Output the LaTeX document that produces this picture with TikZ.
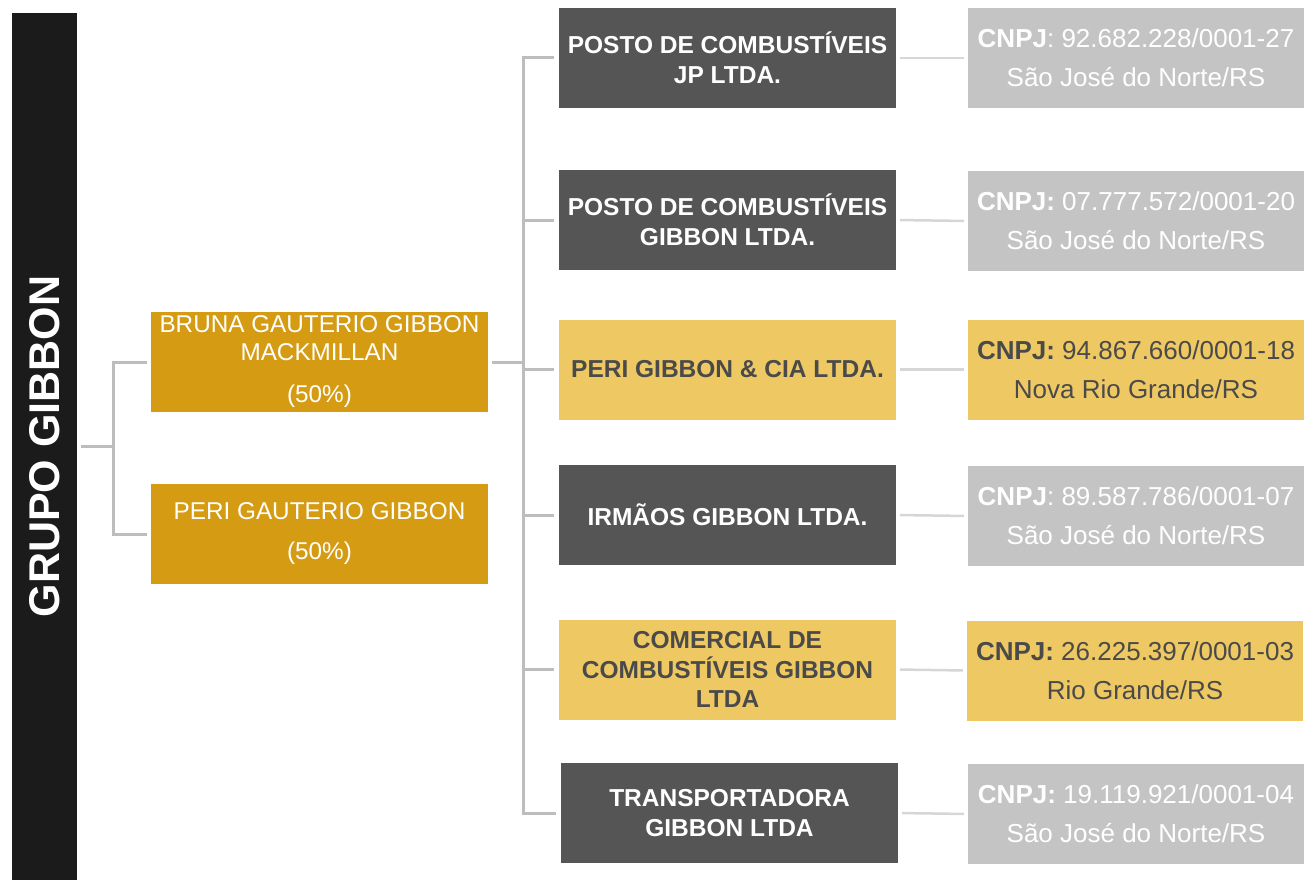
\documentclass[tikz,border=0pt]{standalone}
\usepackage{fontspec}
\setmainfont{Liberation Sans}
\usetikzlibrary{positioning}
\definecolor{preto}{HTML}{1B1B1B}
\definecolor{ouro}{HTML}{D59B12}
\definecolor{amarelo}{HTML}{EEC862}
\definecolor{escuro}{HTML}{555555}
\definecolor{cinza}{HTML}{C4C4C4}
\definecolor{grafite}{HTML}{4A4A4A}
\definecolor{linha}{HTML}{BDBDBD}
\definecolor{linhaclara}{HTML}{D6D6D6}

\tikzset{
  caixa/.style={minimum width=337pt,minimum height=100pt,inner sep=0pt,align=center},
  socio/.style={caixa,fill=ouro,text=white,font=\fontsize{24.3}{28}\selectfont},
  empresa/.style={caixa,font=\bfseries\fontsize{24.5}{29.5}\selectfont},
  registro/.style={caixa,minimum width=336pt,font=\fontsize{26}{39}\selectfont},
  fechada/.style={fill=escuro,text=white},
  aberta/.style={fill=amarelo,text=grafite},
  apagada/.style={fill=cinza,text=white},
  ramo/.style={draw=linha,line width=3pt},
  liga/.style={draw=linhaclara,line width=2.5pt,shorten <=4pt,shorten >=4pt}
}

\begin{document}
\begin{tikzpicture}[x=1pt,y=-1pt]
\useasboundingbox (0,0) rectangle (1304,880);

    % grupo
    \node[fill=preto,text=white,minimum width=65pt,minimum height=867pt,inner sep=0pt,
          font=\bfseries\fontsize{43}{43}\selectfont] (grupo) at (44.5,446.5) {\rotatebox{90}{GRUPO GIBBON}};

    % socios
    \node[socio] (bruna) at (319.5,362) {BRUNA GAUTERIO GIBBON\\MACKMILLAN\\[14pt](50\%)};
    \node[socio] (peri) at (319.5,534) {PERI GAUTERIO GIBBON\\[12pt](50\%)};

    % empresas
    \node[empresa,fechada] (emp1) at (727.5,58) {POSTO DE COMBUSTÍVEIS\\JP LTDA.};
    \node[empresa,fechada] (emp2) at (727.5,220) {POSTO DE COMBUSTÍVEIS\\GIBBON LTDA.};
    \node[empresa,aberta] (emp3) at (727.5,369.5) {PERI GIBBON \& CIA LTDA.};
    \node[empresa,fechada] (emp4) at (727.5,515) {IRMÃOS GIBBON LTDA.};
    \node[empresa,aberta] (emp5) at (727.5,669.5) {COMERCIAL DE\\COMBUSTÍVEIS GIBBON\\LTDA};
    \node[empresa,fechada] (emp6) at (729.5,813) {TRANSPORTADORA\\GIBBON LTDA};

    % cnpj
    \node[registro,apagada] (cnpj1) at (1136,58) {\textbf{CNPJ}: 92.682.228/0001-27\\São José do Norte/RS};
    \node[registro,apagada] (cnpj2) at (1136,221) {\textbf{CNPJ:} 07.777.572/0001-20\\São José do Norte/RS};
    \node[registro,aberta] (cnpj3) at (1136,369.5) {\textbf{CNPJ:} 94.867.660/0001-18\\Nova Rio Grande/RS};
    \node[registro,apagada] (cnpj4) at (1136,516) {\textbf{CNPJ}: 89.587.786/0001-07\\São José do Norte/RS};
    \node[registro,aberta] (cnpj5) at (1135,670.5) {\textbf{CNPJ:} 26.225.397/0001-03\\Rio Grande/RS};
    \node[registro,apagada] (cnpj6) at (1136,814) {\textbf{CNPJ:} 19.119.921/0001-04\\São José do Norte/RS};

    % conectores grupo -> socios
    \coordinate (tronco) at (113,446.5);
    \draw[ramo,shorten <=4pt] (grupo.east) -- (tronco);
    \draw[ramo,shorten >=4pt] (tronco) |- (bruna.west);
    \draw[ramo,shorten >=4pt] (tronco) |- (peri.west);

    % conectores socio -> empresas
    \coordinate (espinha) at (523,362);
    \draw[ramo,shorten <=4pt] (bruna.east) -- (espinha);
	\foreach \i in {1,...,6} \draw[ramo,shorten >=5pt] (espinha) |- (emp\i.west);

    % conectores empresas -> cnpj
	\foreach \i in {1,...,6} \draw[liga] (emp\i.east) -- (cnpj\i.west);
\end{tikzpicture}
\end{document}
